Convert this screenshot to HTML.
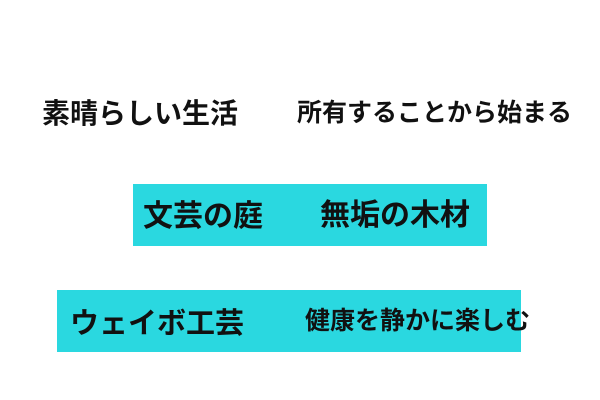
<!DOCTYPE html>
<html><head><meta charset="utf-8"><style>
body{margin:0;width:600px;height:400px;background:#fff;position:relative;overflow:hidden;font-family:"Liberation Sans","Noto Sans CJK JP",sans-serif;font-weight:bold;color:#111;}
.t{position:absolute;white-space:nowrap;line-height:1;}
.b{position:absolute;background:#2ad8e0;}
</style></head><body>
<div class="b" style="left:133px;top:184px;width:354px;height:62px;"></div>
<div class="b" style="left:57px;top:290px;width:464px;height:62px;"></div>
<div class="t" style="left:42px;top:100px;font-size:28px;">素晴らしい生活</div>
<div class="t" style="left:297px;top:101px;font-size:25px;">所有することから始まる</div>
<div class="t" style="left:143px;top:202px;font-size:30px;">文芸の庭</div>
<div class="t" style="left:320px;top:201px;font-size:30px;">無垢の木材</div>
<div class="t" style="left:70px;top:310px;font-size:29px;">ウェイボ工芸</div>
<div class="t" style="left:305px;top:309px;font-size:25px;">健康を静かに楽しむ</div>
</body></html>
